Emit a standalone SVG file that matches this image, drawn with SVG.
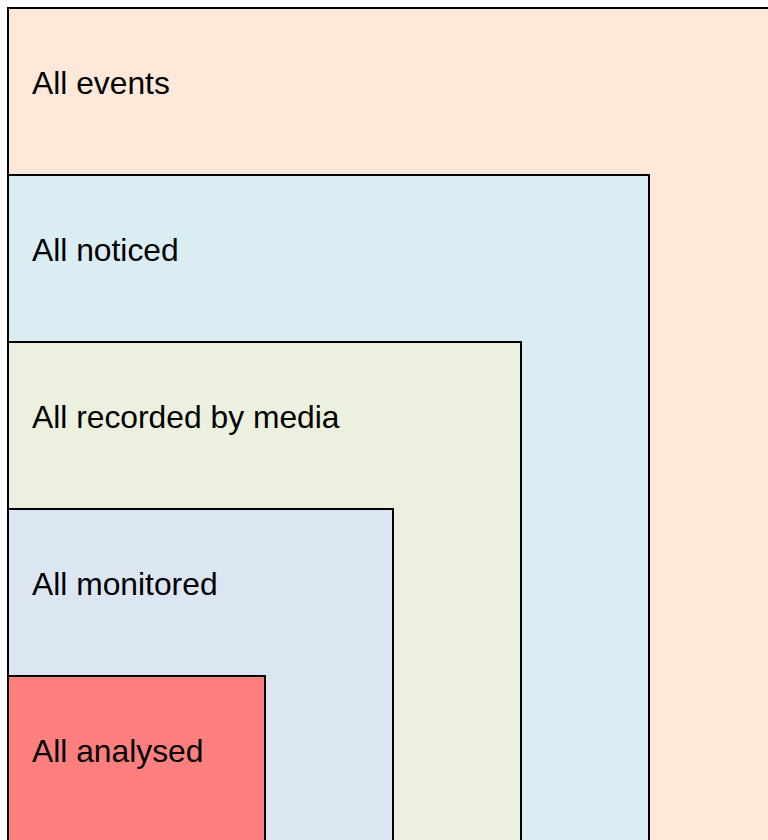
<svg xmlns="http://www.w3.org/2000/svg" width="768" height="840" viewBox="0 0 768 840">
<style>
.box{stroke:#000;stroke-width:2}
.lbl{font-family:"Liberation Sans",Arial,sans-serif;font-size:31.8px;fill:#000}
</style>
<rect width="768" height="840" fill="#fff"/>
<g id="events"><rect class="box" x="8" y="8" width="800" height="900" fill="#fde8da"/><text class="lbl" x="32" y="94">All events</text></g>
<g id="noticed"><rect class="box" x="8" y="175" width="641" height="900" fill="#daedf3"/><text class="lbl" x="32" y="261">All noticed</text></g>
<g id="recorded"><rect class="box" x="8" y="342" width="513" height="900" fill="#ebf1de"/><text class="lbl" x="32" y="428">All recorded by media</text></g>
<g id="monitored"><rect class="box" x="8" y="509" width="385" height="900" fill="#dce6f2"/><text class="lbl" x="32" y="595">All monitored</text></g>
<g id="analysed"><rect class="box" x="8" y="676" width="257" height="900" fill="#ff7f7f"/><text class="lbl" x="32" y="762">All analysed</text></g>
<g id="connectors"/>
</svg>
